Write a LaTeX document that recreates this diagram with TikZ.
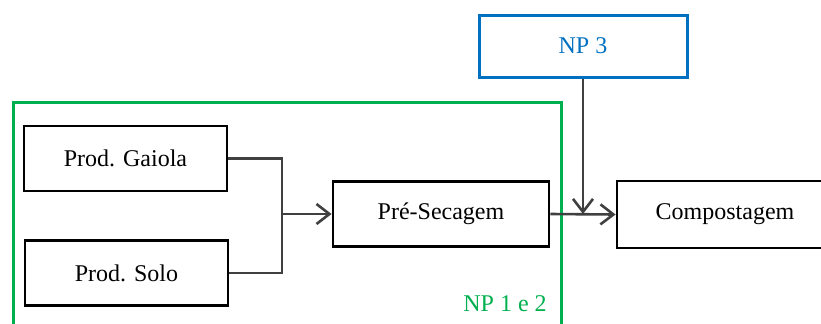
\documentclass[tikz,border=0pt]{standalone}
\usepackage{fontspec}
\setmainfont{Liberation Serif}
\usetikzlibrary{arrows.meta,calc,positioning}
\definecolor{green}{HTML}{00B050}
\definecolor{blue}{HTML}{0070C0}
\definecolor{link}{HTML}{404040}

\begin{document}
\begin{tikzpicture}[x=0.5pt,y=-0.5pt,>={Straight Barb[length=6.5pt,width=10pt]},
  stage/.style={draw=black,line width=1.4pt,minimum height=32.5pt,font=\fontsize{12}{14}\selectfont},
  link/.style={draw=link,line width=1.3pt}]
\useasboundingbox (0,0) rectangle (821,323);
% grupo NP 1 e 2
\draw[green,line width=1.5pt] (13,340) |- (561,102) -- (561,340);
\node[text=green,font=\fontsize{12}{14}\selectfont] (np12) at (505,304) {NP 1 e 2};
% etapas
\node[stage,minimum width=101.5pt] (gaiola) at (125.5,158.5) {Prod. Gaiola};
\node[stage,minimum width=101.5pt] (solo) at (126.5,273) {Prod. Solo};
\node[stage,minimum width=108pt] (presec) at (441,214) {Pré-Secagem};
\node[stage,minimum width=108pt,minimum height=33.5pt] (compost) at (725,214.5) {Compostagem};
\node[draw=blue,line width=1.5pt,minimum width=104pt,minimum height=31pt,text=blue,font=\fontsize{12}{14}\selectfont] (np3) at (583,46) {NP 3};
% ligações
\coordinate (join) at (282,214);
\draw[link] (gaiola.east) -| (join);
\draw[link] (solo.east) -| (join);
\draw[link,->] (join) -- (presec.west);
\draw[link,->] (presec.east) -- (compost.west);
\draw[link,->] (np3.south) -- (np3.south |- presec.east);
\end{tikzpicture}
\end{document}
